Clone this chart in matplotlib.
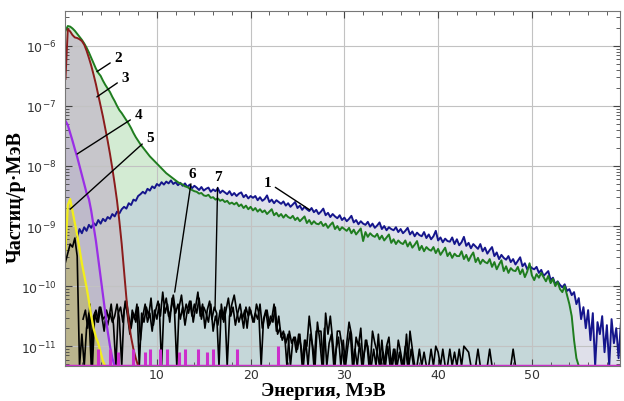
import numpy as np
import matplotlib
matplotlib.use("Agg")
import matplotlib.pyplot as plt
from matplotlib.ticker import MultipleLocator, NullFormatter, FixedLocator

plt.rcParams['mathtext.fontset'] = 'custom'
plt.rcParams['mathtext.rm'] = 'Liberation Sans'
plt.rcParams['mathtext.it'] = 'Liberation Sans'

STEP = 0.25          # energy bin, MeV
FLOOR = -11.33       # log10 of "zero" counts (bottom of the plot)

# ---- curve 1 (blue), log10 values, first bin at 1.5 MeV
spec1_start = 1.5
spec1_log = [
    -9.18, -9.05, -9.12, -9.02, -9.08, -8.98, -9.03, -8.95, -8.99, -8.9, -8.96, -8.88, -8.92, -8.85,
    -8.88, -8.8, -8.84, -8.76, -8.79, -8.72, -8.68, -8.71, -8.62, -8.65, -8.56, -8.58, -8.5,
    -8.47, -8.43, -8.46, -8.38, -8.41, -8.34, -8.37, -8.3, -8.33, -8.27, -8.31, -8.26,
    -8.29, -8.24, -8.3, -8.27, -8.32, -8.28, -8.33, -8.29, -8.35, -8.31, -8.37, -8.33,
    -8.36, -8.4, -8.35, -8.41, -8.38, -8.36, -8.43, -8.39, -8.42, -8.37, -8.45, -8.41,
    -8.44, -8.47, -8.42, -8.49, -8.45, -8.5, -8.46, -8.44, -8.52, -8.48, -8.54, -8.5,
    -8.53, -8.5, -8.57, -8.52, -8.58, -8.55, -8.49, -8.6, -8.56, -8.62, -8.57, -8.6,
    -8.63, -8.59, -8.66, -8.62, -8.68, -8.64, -8.6, -8.7, -8.66, -8.73, -8.68, -8.72,
    -8.75, -8.7, -8.77, -8.73, -8.8, -8.76, -8.71, -8.82, -8.78, -8.85, -8.8, -8.84,
    -8.87, -8.82, -8.9, -8.86, -8.92, -8.88, -8.83, -8.94, -8.9, -8.97, -8.92, -8.96,
    -8.98, -8.93, -9.01, -8.96, -9.03, -8.99, -8.94, -9.05, -9.0, -9.07, -9.02, -9.05,
    -9.07, -9.02, -9.1, -9.05, -9.12, -9.08, -9.03, -9.14, -9.09, -9.17, -9.11, -9.15,
    -9.17, -9.1, -9.2, -9.14, -9.22, -9.17, -9.08, -9.24, -9.19, -9.27, -9.21, -9.25,
    -9.26, -9.19, -9.3, -9.22, -9.32, -9.27, -9.18, -9.33, -9.28, -9.37, -9.3, -9.34,
    -9.38, -9.3, -9.42, -9.36, -9.46, -9.4, -9.35, -9.5, -9.44, -9.55, -9.48, -9.53,
    -9.56, -9.5, -9.6, -9.55, -9.64, -9.58, -9.52, -9.67, -9.62, -9.72, -9.66, -9.7,
    -9.72, -9.68, -9.78, -9.73, -9.83, -9.79, -9.75, -9.9, -9.86, -9.97, -9.92, -9.98,
    -10.02, -9.97, -10.08, -10.05, -10.15, -10.1, -10.3, -10.2, -10.55, -10.35, -10.7, -10.4,
    -10.9, -10.45, -11.33, -10.6, -10.8, -10.5, -11.1, -10.65, -11.33, -10.55, -10.95, -10.7, -11.2, -10.6, -11.0,
]

# ---- curve 3 (green), first bin at 0.25 MeV
spec3_start = 0.25
spec3_log = [
    -5.75, -5.67, -5.68, -5.71, -5.75, -5.8, -5.85, -5.9, -5.96, -6.03, -6.11, -6.2,
    -6.29, -6.38, -6.45, -6.5, -6.58, -6.65, -6.71, -6.77, -6.85, -6.92, -7.0, -7.07,
    -7.12, -7.18, -7.24, -7.3, -7.37, -7.45, -7.52, -7.58, -7.64, -7.69, -7.74, -7.79,
    -7.84, -7.88, -7.92, -7.96, -8.0, -8.04, -8.08, -8.12, -8.15, -8.18, -8.21, -8.24,
    -8.27, -8.29, -8.31, -8.34, -8.35, -8.38, -8.4, -8.42, -8.43, -8.46, -8.45, -8.49,
    -8.5, -8.48, -8.53, -8.52, -8.56, -8.54, -8.58, -8.56, -8.6, -8.58, -8.63, -8.61,
    -8.64, -8.61, -8.67, -8.64, -8.7, -8.66, -8.72, -8.68, -8.74, -8.7, -8.76, -8.72,
    -8.77, -8.74, -8.8, -8.76, -8.72, -8.82, -8.78, -8.84, -8.8, -8.86, -8.81, -8.85,
    -8.87, -8.83, -8.9, -8.86, -8.92, -8.88, -8.84, -8.95, -8.9, -8.97, -8.92, -8.96,
    -8.97, -8.93, -9.0, -8.96, -9.03, -8.98, -8.94, -9.05, -9.0, -9.07, -9.02, -9.05,
    -9.08, -9.03, -9.12, -9.06, -9.14, -9.09, -9.04, -9.25, -9.1, -9.18, -9.12, -9.16,
    -9.18, -9.13, -9.22, -9.16, -9.24, -9.19, -9.14, -9.28, -9.22, -9.3, -9.24, -9.28,
    -9.3, -9.24, -9.34, -9.27, -9.36, -9.31, -9.25, -9.4, -9.33, -9.42, -9.35, -9.39,
    -9.41, -9.35, -9.45, -9.38, -9.48, -9.42, -9.36, -9.5, -9.44, -9.53, -9.46, -9.5,
    -9.5, -9.42, -9.55, -9.48, -9.58, -9.5, -9.44, -9.6, -9.53, -9.63, -9.56, -9.6,
    -9.62, -9.55, -9.68, -9.6, -9.72, -9.64, -9.57, -9.75, -9.67, -9.78, -9.7, -9.74,
    -9.75, -9.68, -9.8, -9.72, -9.85, -9.76, -9.62, -9.82, -9.9, -9.8, -9.86, -9.78,
    -9.85, -9.92, -9.83, -9.95, -9.88, -10.0, -9.93, -10.05, -10.1, -10.0, -10.15, -10.3,
    -10.5, -10.9, -11.2, -11.33,
]

# ---- curve 2 (brown)
spec2_start = 0.25
spec2_log = [
    -6.55, -5.72, -5.76, -5.82, -5.86, -5.87, -5.89, -5.92, -5.98, -6.08, -6.2, -6.33,
    -6.48, -6.64, -6.82, -7.0, -7.18, -7.38, -7.58, -7.8, -8.04, -8.3, -8.58, -8.92,
    -9.3, -9.75, -10.2, -10.6, -10.85, -11.05, -11.2, -11.33,
]

# ---- curve 4 (violet)
spec4_start = 0.25
spec4_log = [
    -7.25, -7.32, -7.45, -7.58, -7.72, -7.85, -8.0, -8.15, -8.3, -8.45, -8.55, -8.75,
    -9.0, -9.25, -9.55, -9.85, -10.15, -10.45, -10.75, -11.0, -11.2, -11.33,
]
spec4_spike_x = [3.7, 5.0, 5.9, 7.5, 8.7, 9.3, 10.3, 11.1, 12.4, 13.0, 14.4, 15.3, 16.0, 18.5, 22.9]
spec4_spike_log = [-11.05, -11.05, -11.1, -11.05, -11.1, -11.05, -11.05, -11.05, -11.1,
                   -11.05, -11.05, -11.1, -11.05, -11.05, -11.0]

# ---- curve 5 (yellow)
spec5_start = 0.25
spec5_log = [
    -9.4, -8.65, -8.55, -8.75, -8.95, -9.15, -9.38, -9.62, -9.82, -10.02, -10.25, -10.5,
    -10.7, -10.85, -10.95, -11.1, -11.25, -11.33,
]

# ---- curve 6 (black, low-level background)
spec6_start = 0.25
spec6_log = [
    -9.6, -9.45, -9.3, -9.35, -9.2, -9.5, -11.33, -10.8, -11.33,
    -10.7, -10.45, -11.33, -10.5, -10.4, -10.6, -10.35, -10.55, -10.5, -10.65, -10.45, -10.6,
    -10.5, -10.3, -10.55, -11.33, -10.4, -10.25, -10.5, -10.7, -10.45, -10.6, -10.35, -10.9,
    -10.5, -10.3, -10.6, -10.45, -10.75, -10.4, -10.55,
    -10.3, -11.33, -10.35, -10.2, -10.5, -10.4, -10.15, -10.45, -10.3, -10.55, -10.35, -10.65,
    -10.4, -10.25, -10.5, -10.3, -10.45, -10.2, -10.55, -10.35, -10.45, -10.6, -10.3, -10.75,
    -10.5, -10.65, -10.4, -10.55, -10.35, -11.33, -10.5, -10.3, -10.15, -10.4, -10.6, -10.45,
    -10.7, -10.35, -10.5, -10.4, -10.6, -10.45, -10.55, -10.3, -10.7, -10.5, -10.4, -10.65,
    -10.55, -10.3, -10.75, -10.5,
    -10.85, -10.75, -10.95, -10.8, -11.33, -10.9, -10.85, -11.05, -10.8, -11.33, -10.9, -11.0,
    -10.5, -10.85, -11.33, -10.75, -10.75, -10.75, -11.33, -10.45, -10.8, -10.5, -10.9, -11.33,
    -10.75, -10.75, -11.0, -11.33, -10.95, -10.6, -10.8, -11.33, -10.85, -11.0, -10.7, -11.33,
    -10.9, -11.0, -11.33, -10.75, -10.95, -11.1, -11.33, -10.9, -11.33, -11.0, -10.85, -11.33,
    -11.05, -11.33, -10.9, -11.1, -11.33, -11.0, -11.33, -10.75, -11.05, -11.33, -11.33, -11.05,
    -11.33, -11.1, -11.33, -11.33, -11.05, -11.33, -11.0, -11.1, -11.33, -11.05, -11.33, -11.33,
    -11.05, -11.33, -11.1, -11.33, -11.05, -11.33, -11.0, -11.05, -11.1, -11.33, -11.33, -11.33,
    -11.05, -11.33, -11.33, -11.33, -11.33, -11.05, -11.33, -11.33, -11.33, -11.33, -11.33, -11.33,
    -11.33, -11.33, -11.33, -11.05, -11.33, -11.33,
]

# ---- curve 7 (black, second background spectrum)
spec7_start = 2.125
spec7_log = [
    -10.55, -10.4, -10.7, -10.3, -11.33, -10.45, -10.6, -10.35, -10.5, -10.75, -10.4, -10.55,
    -10.3, -10.65, -11.33, -10.45, -10.35, -10.6, -10.25, -10.5, -10.8, -10.4, -10.55, -10.3,
    -11.33, -10.45, -10.6, -10.35, -10.5, -10.2, -10.65, -10.4,
    -10.25, -10.5, -10.1, -10.45, -10.3, -10.6, -10.2, -10.4, -11.33, -10.35, -10.15, -10.5,
    -10.3, -10.45, -10.25, -10.6, -10.35, -10.1, -10.5, -10.3, -10.7, -10.4, -10.25, -10.55,
    -10.35, -10.45, -11.33, -10.3, -10.6, -10.4, -10.2, -10.5, -10.35, -10.65, -10.45, -10.3,
    -10.55, -10.4, -10.7, -10.35, -10.5, -10.6, -10.3, -10.45, -11.33, -10.55, -10.4, -10.7,
    -10.5, -10.6, -10.35, -10.8,
    -10.7, -10.9, -10.8, -11.33, -10.75, -10.95, -10.85, -11.1, -10.8, -11.0, -11.33, -10.9,
    -11.33, -10.8, -11.0, -11.33, -10.6, -10.9, -11.33, -10.7, -11.33, -10.95, -10.8, -11.33,
    -11.05, -10.85, -11.33, -10.9, -11.33, -11.0, -10.75, -11.33, -11.05, -11.33, -10.95, -11.33,
    -11.1, -10.9, -11.33, -11.33, -11.05, -11.33, -10.8, -11.33, -11.1, -11.33, -11.0, -11.33,
    -11.33, -11.05, -11.33, -11.1, -11.33, -11.33, -10.8, -11.33, -11.05, -11.33, -11.33, -11.33,
]

curve_labels = ['1', '2', '3', '4', '5', '6', '7']
x_ticks = [10, 20, 30, 40, 50]
y_ticks = [1e-11, 1e-10, 1e-9, 1e-8, 1e-7, 1e-6]

# ---------------------------------------------------------------- colours
C_BLUE, C_GREEN, C_BROWN = '#15158c', '#1f7d1f', '#8b1c1c'
C_VIOLET, C_MAGENTA, C_YELLOW = '#9a2ee6', '#cc2fcc', '#f2ee1a'
F_GREEN, F_BLUE, F_BOTH = '#d3ebd3', '#dfe0ea', '#c5d7d9'
F_BROWN, F_VIOLET, F_YELLOW = '#c7c6cb', '#bebaca', '#bab48d'


def energies(start, vals):
    return start + STEP * np.arange(len(vals))


fig = plt.figure(figsize=(6.24, 4.02), dpi=100)
ax = fig.add_axes([65 / 624, 1 - 367 / 402, (620 - 65) / 624, (367 - 12) / 402])
ax.set_yscale('log')
ax.set_xlim(0.2, 59.4)
ax.set_ylim(10 ** FLOOR, 10 ** -5.42)
bottom = 10 ** FLOOR

# common energy grid for curves 1 and 3 fills (both on the same 0.25 MeV bins)
e3 = energies(spec3_start, spec3_log)
e1 = energies(spec1_start, spec1_log)
n_common = int(round((e1[-1] - spec3_start) / STEP)) + 1
ec = spec3_start + STEP * np.arange(n_common)
g_full = np.full(n_common, FLOOR)
g_full[:len(spec3_log)] = spec3_log
b_full = np.full(n_common, FLOOR)
off = int(round((spec1_start - spec3_start) / STEP))
b_full[off:off + len(spec1_log)] = spec1_log
lo = np.minimum(g_full, b_full)

ax.fill_between(ec, bottom, 10 ** g_full, color=F_GREEN, lw=0, zorder=1)
ax.fill_between(ec, bottom, 10 ** b_full, color=F_BLUE, lw=0, zorder=1.05)
ax.fill_between(ec, bottom, 10 ** lo, color=F_BOTH, lw=0, zorder=1.1)

e2 = energies(spec2_start, spec2_log)
ax.fill_between(e2, bottom, 10 ** np.array(spec2_log), color=F_BROWN, lw=0, zorder=1.2)
e4 = energies(spec4_start, spec4_log)
ax.fill_between(e4, bottom, 10 ** np.array(spec4_log), color=F_VIOLET, lw=0, zorder=1.3)
e5 = energies(spec5_start, spec5_log)
ax.fill_between(e5, bottom, 10 ** np.array(spec5_log), color=F_YELLOW, lw=0, zorder=1.4)

# curves
e6 = energies(spec6_start, spec6_log)
e7 = energies(spec7_start, spec7_log)
ax.plot(e6, 10 ** np.array(spec6_log), color='black', lw=1.2, zorder=3)
ax.plot(e7, 10 ** np.array(spec7_log), color='black', lw=1.2, zorder=3)
ax.plot(e3, 10 ** np.array(spec3_log), color=C_GREEN, lw=1.4, zorder=3.2)
ax.plot(e1, 10 ** np.array(spec1_log), color=C_BLUE, lw=1.4, zorder=3.1)
ax.plot(e2, 10 ** np.array(spec2_log), color=C_BROWN, lw=1.4, zorder=3.3)
ax.plot(e4, 10 ** np.array(spec4_log), color=C_VIOLET, lw=1.6, zorder=3.4)
ax.plot(e5, 10 ** np.array(spec5_log), color=C_YELLOW, lw=1.6, zorder=3.5)
ax.vlines(spec4_spike_x, bottom, 10 ** np.array(spec4_spike_log), color=C_MAGENTA, lw=2.2, zorder=3.6)
ax.axhline(bottom, color=C_MAGENTA, lw=2.5, zorder=3.7)

# ticks, grid
ax.xaxis.set_major_locator(FixedLocator(x_ticks))
ax.xaxis.set_minor_locator(MultipleLocator(2))
ax.yaxis.set_major_locator(FixedLocator(y_ticks))
minor_y = [m * t for t in [1e-12] + y_ticks for m in range(2, 10)
           if 10 ** FLOOR < m * t < 10 ** -5.42]
ax.yaxis.set_minor_locator(FixedLocator(minor_y))
ax.yaxis.set_minor_formatter(NullFormatter())
ax.tick_params(which='both', direction='in', top=True, right=True, colors='#444444',
               labelcolor='#333333', labelsize=9)
ax.tick_params(which='major', length=5, width=0.8)
ax.tick_params(which='minor', length=3, width=0.6)
ax.tick_params(axis='x', pad=1.5)
ax.tick_params(axis='y', pad=6)
ax.set_axisbelow(False)
ax.grid(True, which='major', color='#c2c2c2', lw=0.8)
for s in ax.spines.values():
    s.set_color('#777777')
    s.set_linewidth(0.8)
    s.set_zorder(4)

serif = ['Liberation Serif', 'DejaVu Serif']
ax.set_xlabel('Энергия, МэВ', fontsize=14, fontweight='bold', family=serif)
ax.xaxis.set_label_coords(0.465, -0.045)
ax.set_ylabel('Частиц/р·МэВ', fontsize=14.5, fontweight='bold', family=serif)
ax.yaxis.set_label_coords(-0.07, 0.479)

# curve number labels with leader lines: (text pos) -> (point on curve)
label_pos = {
    '1': ((21.8, -8.27), (26.3, -8.73)),
    '2': ((5.85, -6.2), (3.6, -6.43)),
    '3': ((6.6, -6.53), (3.6, -6.85)),
    '4': ((8.0, -7.15), (1.5, -7.8)),
    '5': ((9.25, -7.52), (0.75, -8.72)),
    '6': ((13.8, -8.12), (11.9, -10.1)),
    '7': ((16.5, -8.18), (16.2, -10.4)),
}
for lab in curve_labels:
    (tx, ty), (px, py) = label_pos[lab]
    ax.annotate(lab, xy=(px, 10 ** py), xytext=(tx, 10 ** ty), ha='center', va='center',
                fontsize=11, fontweight='bold', family=serif, zorder=6,
                arrowprops=dict(arrowstyle='-', color='black', lw=1.0, shrinkA=1, shrinkB=0))

fig.savefig('out.png', dpi=100, facecolor='white')
